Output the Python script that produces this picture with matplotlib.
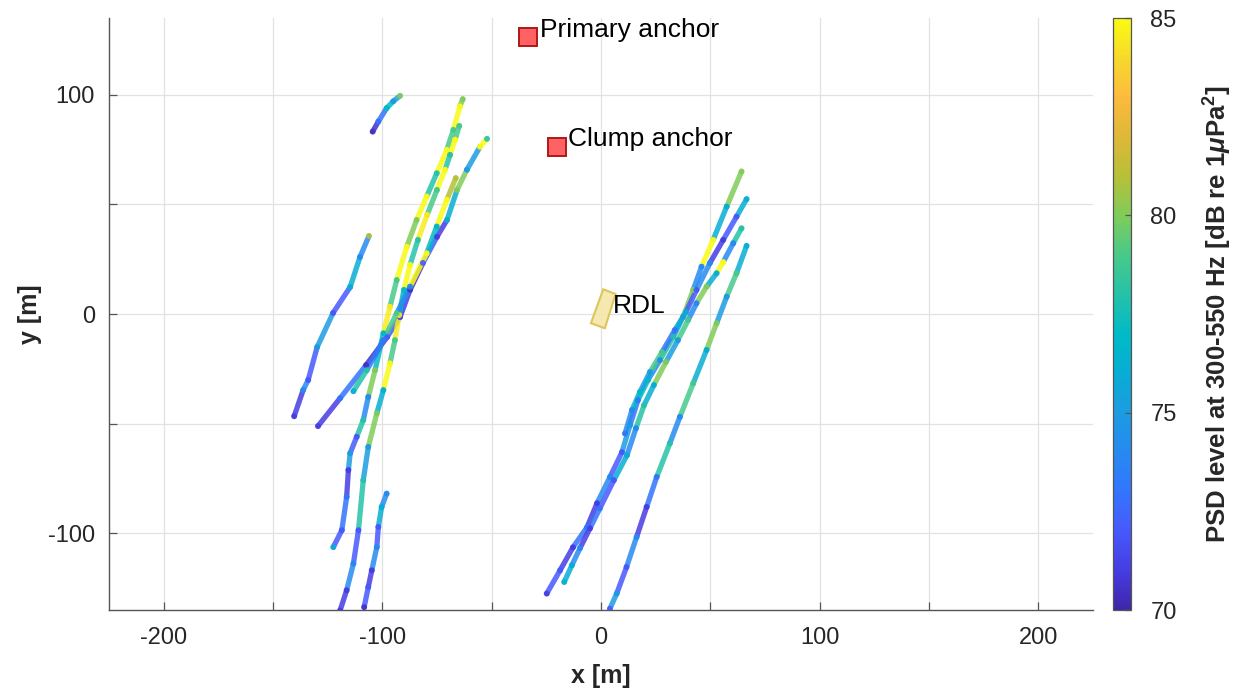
import numpy as np
import matplotlib
matplotlib.use("Agg")
import matplotlib.pyplot as plt
from matplotlib.collections import LineCollection
from matplotlib.colors import LinearSegmentedColormap, Normalize
from matplotlib.patches import Polygon

plt.rcParams['font.family'] = ['Liberation Sans', 'DejaVu Sans']
plt.rcParams['mathtext.fontset'] = 'custom'
plt.rcParams['mathtext.rm'] = 'Liberation Sans:bold'
plt.rcParams['mathtext.it'] = 'Liberation Sans:italic:bold'
plt.rcParams['mathtext.bf'] = 'Liberation Sans:bold'

# ---------------- data ----------------
# left cluster
l1_x = [-104.4, -101.8, -98.0, -95.0, -91.9]
l1_y = [83.2, 87.8, 93.9, 97.0, 99.5]
l1_v = [70.5, 73, 77, 75, 80]

l2_x = [-140.3, -136.2, -133.9, -129.8, -122.5, -114.7, -110.2, -106.1]
l2_y = [-46.6, -34.7, -30.1, -15.1, 0.5, 12.3, 26.0, 35.6]
l2_v = [71, 74, 72, 75, 72, 76, 74, 81]

l3_x = [-129.4, -119.3, -107.4, -97.8, -91.9, -87.3, -81.4, -75.0, -70.4, -65.8, -61.3, -55.3, -52.1]
l3_y = [-51.1, -38.4, -23.3, -10.5, -1.4, 11.0, 23.3, 35.2, 42.9, 56.6, 65.8, 76.3, 79.9]
l3_v = [71, 73, 70.5, 72, 71, 70.5, 72, 71, 76, 80, 75, 85, 78]

l4_x = [-63.2, -64.5, -67.5, -70.5, -75.1, -79.7, -84.3, -88.8, -93.4, -96.5,
        -99.5, -103.3, -106.4, -108.7, -111.7, -114.7, -115.5, -116.3, -118.5, -122.4]
l4_y = [98.0, 94.7, 84.0, 74.9, 64.2, 53.6, 42.9, 30.7, 15.5, 3.3,
        -8.8, -25.6, -37.8, -48.4, -56.0, -63.5, -71.2, -83.4, -98.6, -106.3]
l4_v = [80, 85, 79, 85, 78, 85, 80, 85, 79, 84.5,
        77, 80, 74, 78, 72, 75, 71, 73, 72, 76]

l5_x = [-64.8, -66.7, -69.0, -71.3, -75.0, -79.5, -83.7, -87.3, -90.1, -92.3,
        -94.2, -96.5, -99.5, -102.5, -106.4, -108.7, -110.9, -113.2, -116.3, -119.3]
l5_y = [85.8, 79.5, 72.6, 65.8, 56.6, 45.2, 33.8, 22.4, 11.0, -0.5,
        -11.9, -22.5, -34.7, -45.3, -60.6, -75.8, -98.6, -113.8, -126.0, -135.2]
l5_v = [79, 85, 78, 85, 79, 84.5, 78, 85, 77, 84.5,
        79, 85, 76, 80, 75, 78, 72, 74, 71, 71]

l6_x = [-98.0, -100.3, -101.8, -102.5, -104.8, -106.4, -108.3]
l6_y = [-81.9, -88.0, -97.1, -106.3, -116.9, -124.5, -133.7]
l6_v = [74, 76, 72, 74, 71, 72, 70.5]

l7_x = [-66.4, -70.5, -75.1, -79.7, -87.3, -93.4, -99.5, -107.1, -113.2]
l7_y = [62.0, 52.1, 39.9, 27.7, 12.5, 0.3, -11.9, -25.6, -35.2]
l7_v = [81, 85, 77, 85, 74, 79, 73, 78, 76]

# right cluster
r1_x = [64.3, 57.5, 51.3, 46.0, 42.2, 37.6, 33.1, 27.0, 21.5, 16.9, 13.3, 9.6, 4.1, -1.8, -6.4, -12.8, -18.7, -24.8]
r1_y = [65.0, 49.0, 33.8, 21.6, 11.0, -1.2, -10.4, -21.0, -30.1, -39.3, -50.7, -63.0, -74.4, -86.3, -97.3, -106.4, -116.9, -127.5]
r1_v = [80, 76, 85, 74, 80, 75, 78, 74, 77, 73, 75, 72, 74, 71, 73, 71, 72, 71]

r2_x = [66.6, 62.0, 55.9, 49.8, 43.7, 38.9, 33.8, 27.9, 22.4, 17.8, 14.2, 11.0]
r2_y = [52.4, 44.4, 33.8, 23.2, 11.0, 0.9, -7.3, -17.4, -26.5, -35.6, -43.8, -54.5]
r2_v = [76, 72, 71, 74, 72, 76, 73, 79, 75, 77, 74, 73]

r3_x = [64.3, 60.5, 55.9, 52.9, 48.3, 43.7, 39.9, 35.2, 29.7, 24.2, 19.7, 16.0, 11.9, 5.9, -0.5, -5.0, -9.6, -13.3, -16.8]
r3_y = [39.1, 32.3, 23.7, 18.6, 12.5, 4.9, -2.7, -11.9, -21.9, -32.4, -41.6, -52.1, -64.4, -75.8, -88.6, -97.7, -106.8, -114.6, -122.2]
r3_v = [78, 74, 85, 76, 80, 74, 79, 75, 80, 76, 78, 74, 76, 72, 73, 71, 74, 76, 76.5]

r4_x = [66.6, 62.0, 57.5, 52.9, 48.3, 42.2, 36.1, 31.5, 25.5, 20.9, 16.3, 11.7, 7.2, 4.1]
r4_y = [31.1, 18.6, 7.9, -4.2, -16.4, -31.6, -46.9, -59.0, -74.3, -88.0, -101.7, -115.4, -127.5, -134.4]
r4_v = [76, 79, 75, 80, 76, 79, 74, 78, 73, 71, 74, 72, 75, 72]

anchor_names = ["Primary anchor", "Clump anchor"]
anchor_x = [-33.4, -20.1]
anchor_y = [126.5, 76.3]

rdl_x = [1.05, 6.7, 1.8, -4.6]
rdl_y = [11.3, 9.1, -6.5, -4.2]

cbar_ticks = [70, 75, 80, 85]
x_ticks = [-200, -150, -100, -50, 0, 50, 100, 150, 200]
x_ticklabels = ["-200", "", "-100", "", "0", "", "100", "", "200"]
y_ticks = [-100, -50, 0, 50, 100]
y_ticklabels = ["-100", "", "0", "", "100"]

# ---------------- parula-like colormap ----------------
parula_pts = [
    (0.2422, 0.1504, 0.6603), (0.2760, 0.2400, 0.8900), (0.2760, 0.3500, 0.9900),
    (0.2000, 0.4600, 0.9900), (0.1500, 0.5400, 0.9400), (0.1100, 0.6100, 0.8800),
    (0.0300, 0.6800, 0.8300), (0.0000, 0.7300, 0.7800), (0.1500, 0.7600, 0.6600),
    (0.2800, 0.7900, 0.5400), (0.5000, 0.8000, 0.3500), (0.7200, 0.7500, 0.2200),
    (0.8700, 0.7200, 0.2200), (0.9900, 0.7300, 0.2400), (0.9700, 0.8500, 0.1700),
    (0.9769, 0.9839, 0.0805)]
parula = LinearSegmentedColormap.from_list("parula", parula_pts, N=256)
norm = Normalize(vmin=70, vmax=85)

fig = plt.figure(figsize=(12.41, 6.90), dpi=100)
ax = fig.add_axes([0.0878, 0.1159, 0.7929, 0.858])
ax.set_xlim(-225, 225)
ax.set_ylim(-135, 135)

tracks = [(l1_x, l1_y, l1_v), (l2_x, l2_y, l2_v), (l3_x, l3_y, l3_v),
          (l4_x, l4_y, l4_v), (l5_x, l5_y, l5_v), (l6_x, l6_y, l6_v),
          (l7_x, l7_y, l7_v), (r1_x, r1_y, r1_v), (r2_x, r2_y, r2_v),
          (r3_x, r3_y, r3_v), (r4_x, r4_y, r4_v)]

for tx, ty, tv in tracks:
    pts = np.column_stack([tx, ty])
    segs = np.stack([pts[:-1], pts[1:]], axis=1)
    tv = np.asarray(tv, float)
    lc = LineCollection(segs, cmap=parula, norm=norm, linewidths=3.8,
                        capstyle='round', joinstyle='round', alpha=0.85, zorder=3)
    lc.set_array(tv[:-1])
    ax.add_collection(lc)
    ax.scatter(tx, ty, c=tv, cmap=parula, norm=norm, s=18, linewidths=0,
               alpha=0.9, zorder=4)

# RDL
ax.add_patch(Polygon(np.column_stack([rdl_x, rdl_y]), closed=True,
                     facecolor='#f6e7a8', edgecolor='#dcc050', lw=1.5, alpha=0.9, zorder=5))
ax.text(5.5, 3.6, "RDL", fontsize=19, ha='left', va='center', color='black', zorder=6)

# anchors
ax.plot(anchor_x, anchor_y, 's', ms=13, mfc='#ff6262', mec='#b01818', mew=1.4, zorder=6)
ax.text(-27.9, 129.7, anchor_names[0], fontsize=19, ha='left', va='center', zorder=6)
ax.text(-15.1, 79.9, anchor_names[1], fontsize=19, ha='left', va='center', zorder=6)

# axes styling
ax.set_xticks(x_ticks)
ax.set_xticklabels(x_ticklabels)
ax.set_yticks(y_ticks)
ax.set_yticklabels(y_ticklabels)
ax.grid(True, color='#e2e2e2', lw=0.9)
ax.set_axisbelow(True)
ax.tick_params(direction='in', length=6, width=0.9, color='#555555',
               labelcolor='#262626', labelsize=17)
ax.tick_params(axis='x', pad=12)
ax.tick_params(axis='y', pad=10)
for s in ['top', 'right']:
    ax.spines[s].set_visible(False)
for s in ['left', 'bottom']:
    ax.spines[s].set_color('#555555')
    ax.spines[s].set_linewidth(1.0)
ax.set_xlabel("x [m]", fontsize=18, fontweight='bold', color='#262626', labelpad=11)
ax.set_ylabel("y [m]", fontsize=18, fontweight='bold', color='#262626', labelpad=4)

# colorbar
cax = fig.add_axes([1113 / 1241, 0.1159, 18 / 1241, 0.858])
sm = plt.cm.ScalarMappable(cmap=parula, norm=norm)
cb = fig.colorbar(sm, cax=cax, ticks=cbar_ticks)
cb.outline.set_edgecolor('#555555')
cb.outline.set_linewidth(0.9)
cb.ax.tick_params(direction='in', length=4, width=0.9, color='#555555',
                  labelcolor='#262626', labelsize=17, pad=14)
cb.set_label(r"PSD level at 300-550 Hz [dB re 1$\mu$Pa$^\mathbf{2}$]",
             fontsize=18.5, fontweight='bold', color='#262626', labelpad=18)

fig.savefig("out.png", dpi=100)
